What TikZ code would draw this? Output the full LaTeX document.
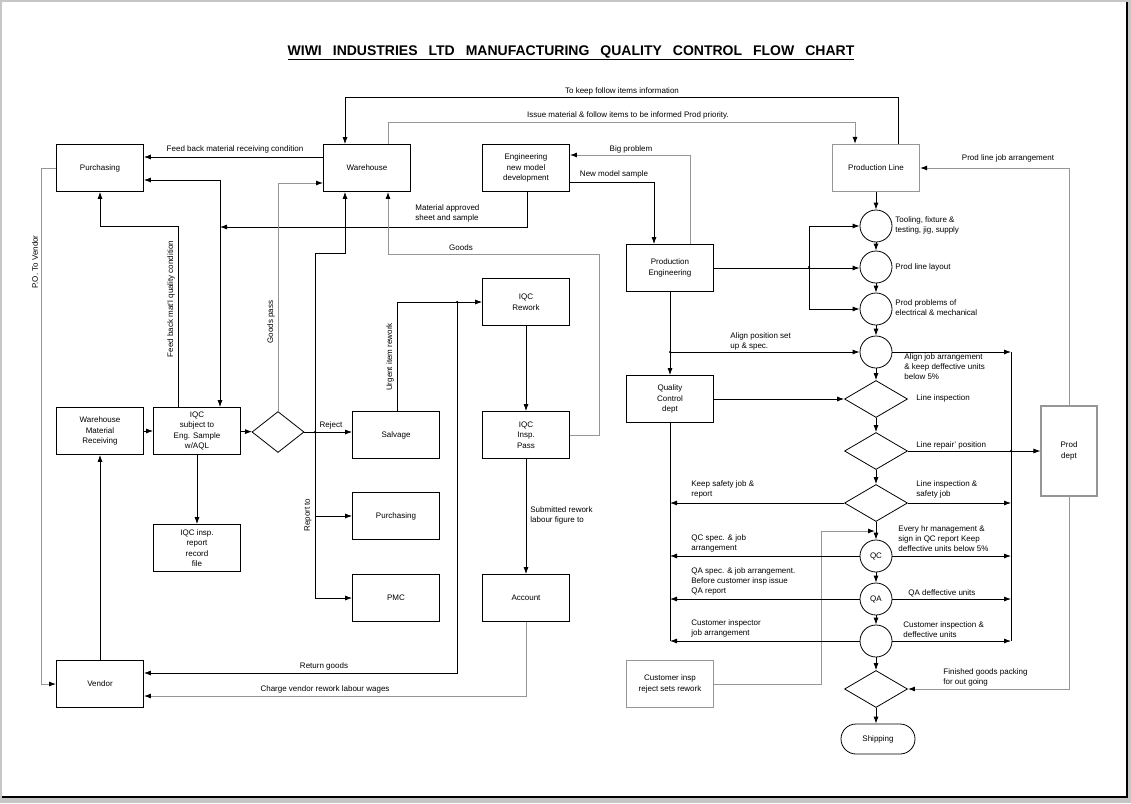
\documentclass[tikz,border=0pt]{standalone}
\usepackage{fontspec}
\setmainfont{Liberation Sans}
\usetikzlibrary{arrows.meta,shapes.geometric,positioning}
\definecolor{lgray}{RGB}{150,150,150}
\newcommand{\tsp}{\hspace{11pt}}
\tikzset{
    %Define standard arrow tip
    >={Latex[length=7pt,width=5pt]},
    %Define style for boxes
    procbox/.style={
           rectangle,
           draw=black, line width=0.8pt,
           minimum width=87pt,
           minimum height=47pt,
           inner sep=1pt,
           font=\fontsize{8}{10.5}\selectfont,
           align=center},
    gprocbox/.style={
           procbox,
           draw=lgray, line width=1.1pt},
    decision/.style={
           diamond,
           draw=black, line width=0.8pt,
           minimum width=63pt,
           minimum height=37pt,
           inner sep=0pt},
    stagecirc/.style={
           circle,
           draw=black, line width=0.8pt,
           minimum size=32pt,
           inner sep=0pt,
           font=\fontsize{8}{10}\selectfont},
    txt/.style={
           font=\fontsize{8}{10}\selectfont,
           inner sep=0pt,
           align=left},
    % Define arrow style
    glink/.style={
           draw=lgray, line width=1pt,
           -{Latex[length=7pt,width=5pt,color=black]}},
    jdot/.style={
           circle, fill=black,
           inner sep=0pt, minimum size=2.5pt}
}
\begin{document}
\begin{tikzpicture}[x=1pt,y=-1pt,line width=0.8pt]

 % page
 \fill[gray!45] (0,0) rectangle (1131,803);
 \fill[white] (2,2) rectangle (1127,797);
 \draw[line width=1.2pt] (1127,2) -- (1127,797) -- (2,797);
 \useasboundingbox (0,0) rectangle (1131,803);

 \node[font=\fontsize{14}{16}\selectfont\bfseries] (title) at (571,53)
   {\underline{WIWI\tsp INDUSTRIES\tsp LTD\tsp MANUFACTURING\tsp QUALITY\tsp CONTROL\tsp FLOW\tsp CHART}};

 %nodes
\node[procbox] (purch) at (100,168) {Purchasing};
\node[procbox] (wh) at (367,168) {Warehouse};
\node[procbox] (eng) at (526,168) {Engineering\\new model\\development};
\node[gprocbox] (pline) at (876,168) {Production Line};
\node[procbox] (pe) at (670,268) {Production\\Engineering};
\node[procbox] (wmr) at (100,431) {Warehouse\\Material\\Receiving};
\node[procbox] (iqc) at (197,431) {IQC\\subject to\\Eng. Sample\\w/AQL};
\node[decision, minimum width=52pt, minimum height=41pt] (d0) at (278,432) {};
\node[procbox] (salv) at (396,435) {Salvage};
\node[procbox] (purch2) at (396,516) {Purchasing};
\node[procbox] (pmc) at (396,598) {PMC};
\node[procbox] (rework) at (526,302) {IQC\\Rework};
\node[procbox] (pass) at (526,435) {IQC\\Insp.\\Pass};
\node[procbox] (acct) at (526,598) {Account};
\node[procbox] (rec) at (197,548) {IQC insp.\\report\\record\\file};
\node[procbox] (vendor) at (100,684) {Vendor};
\node[procbox] (qcd) at (670,399) {Quality\\Control\\dept};
\node[gprocbox] (cinsp) at (670,684) {Customer insp\\reject sets rework};
\node[gprocbox, minimum width=56pt, minimum height=90pt] (pdept) at (1069,451) {Prod\\dept};

\node[stagecirc] (c1) at (876,226) {};
\node[stagecirc] (c2) at (876,267) {};
\node[stagecirc] (c3) at (876,309) {};
\node[stagecirc] (c4) at (876,352) {};
\node[decision] (d1) at (876,399) {};
\node[decision] (d2) at (876,451) {};
\node[decision] (d3) at (876,503) {};
\node[stagecirc] (qc) at (876,556) {QC};
\node[stagecirc] (qa) at (876,599) {QA};
\node[stagecirc] (c7) at (876,641) {};
\node[decision] (d4) at (876,689) {};
\node[procbox, rounded corners=15pt, minimum width=74pt, minimum height=30pt] (ship) at (878,739) {Shipping};

\coordinate (appr) at (220,227);
\coordinate (bus) at (315,432);
\coordinate (ret) at (457,302);
\coordinate (pj) at (809,267);
\coordinate (rtop) at (1011,352);
\coordinate (rbot) at (1011,641);
\coordinate (cj) at (875,531);

 %left half
\draw[->] ([xshift=22pt]pline.north) -- ++(0,-47) -| ([xshift=-22pt]wh.north);
\draw[glink] ([xshift=21pt]wh.north) -- ++(0,-22) -| ([xshift=-21pt]pline.north);
\draw[->] ([yshift=11pt]wh.west) -- ([yshift=11pt]purch.east);
\draw[<->] ([yshift=-12pt]purch.east) -| ([xshift=23pt]iqc.north);
\draw[->] ([xshift=1pt]eng.south) |- (appr);
\draw[->] ([xshift=-19pt]iqc.north) -- ++(0,-181) -| (purch.south);
\draw[glink] (purch.west) -- ++(-15,0) |- (vendor.west);
\draw[glink] (d0.north) |- ([yshift=-15pt]wh.west);
\draw[->] (d0.east) -- (d0.east -| salv.west);
\draw[->] (bus) -- ++(0,-179) -| ([xshift=-22pt]wh.south);
\draw[->] (bus) |- (purch2.west);
\draw[->] (bus) |- (pmc.west);
\draw[->] ([xshift=1pt]salv.north) |- (rework.west);
\draw[->] (ret) |- ([yshift=11pt]vendor.east);
\draw[glink] (pass.east) -| ++(30,-181) -| ([xshift=21pt]wh.south);
\draw[glink] (acct.south) |- ([yshift=-12pt]vendor.east);
\node[jdot] at (bus) {};
\node[jdot] at (ret) {};

\path[->]
    (wmr) edge (iqc)
    (iqc) edge (d0)
          edge (rec)
    (vendor) edge (wmr)
    (rework) edge (pass)
    (pass) edge (acct);

 %right half
\draw[->] ([yshift=-14pt]eng.east) -| ([xshift=-16pt]pe.north);
\draw[glink] ([xshift=20pt]pe.north) |- ([yshift=13pt]eng.east);
\draw[->] (pe.east) -- (pe.east -| c2.west);
\draw[->] (pj) |- (c1.west);
\draw[->] (pj) |- (c3.west);
\draw[->] (pe.south |- c4.west) -- (c4.west);
\draw (rtop) -- (rbot);
\draw (qcd.south) -- (qcd.south |- c7.west);
\draw[glink] (pdept.north) |- (pline.east);
\draw[glink] (pdept.south) |- (d4.east);
\draw[glink] (cinsp.east) -| ++(107,-153) -- (cj);
\draw[->] (d4.south) -- (d4.south |- ship.north);
\node[jdot] at (pj) {};
\node[jdot] at (pe.south |- c4.west) {};
\node[jdot] at (rtop |- d2.east) {};

\path[->]
    (pline) edge (c1)
    (c1) edge (c2)
    (c2) edge (c3)
    (c3) edge (c4)
    (c4) edge (d1)
    (d1) edge (d2)
    (d2) edge (d3)
    (d3) edge (qc)
    (qc) edge (qa)
    (qa) edge (c7)
    (c7) edge (d4)
    (pe) edge (qcd)
    (qcd) edge (d1)
    (d2) edge (pdept)
    (c4.east) edge (c4.east -| rtop)
    (d3.east) edge (d3.east -| rtop)
    (qc.east) edge (qc.east -| rtop)
    (qa.east) edge (qa.east -| rtop)
    (c7.east) edge (c7.east -| rtop)
    (d3.west) edge (d3.west -| qcd.south)
    (qc.west) edge (qc.west -| qcd.south)
    (qa.west) edge (qa.west -| qcd.south)
    (c7.west) edge (c7.west -| qcd.south);

 %labels
\node[txt] at (622,91) {To keep follow items information};
\node[txt] at (628,115) {Issue material \& follow items to be informed Prod priority.};
\node[txt] at (235,149) {Feed back material receiving condition};
\node[txt, anchor=west] at (415,213) {Material approved\\sheet and sample};
\node[txt, rotate=90] at (171,299) {Feed back mat'l quality condition};
\node[txt, rotate=90] at (35,262) {P.O. To Vendor};
\node[txt, rotate=90] at (271,322) {Goods pass};
\node[txt] at (331,425) {Reject};
\node[txt, rotate=90] at (308,515) {Report to};
\node[txt, rotate=90] at (390,357) {Urgent item rework};
\node[txt] at (461,248) {Goods};
\node[txt, anchor=west] at (530,515) {Submitted rework\\labour figure to};
\node[txt] at (324,666) {Return goods};
\node[txt] at (325,689) {Charge vendor rework labour wages};
\node[txt] at (631,149) {Big problem};
\node[txt] at (614,174) {New model sample};
\node[txt] at (1008,158) {Prod line job arrangement};
\node[txt, anchor=west] at (895,225) {Tooling, fixture \&\\testing, jig, supply};
\node[txt, anchor=west] at (895,267) {Prod line layout};
\node[txt, anchor=west] at (895,308) {Prod problems of\\electrical \& mechanical};
\node[txt, anchor=west] at (730,341) {Align position set\\up \& spec.};
\node[txt, anchor=west] at (904,367) {Align job arrangement\\\& keep deffective units\\below 5\%};
\node[txt, anchor=west] at (916,398) {Line inspection};
\node[txt, anchor=west] at (916,445) {Line repair' position};
\node[txt, anchor=west] at (916,489) {Line inspection \&\\safety job};
\node[txt, anchor=west] at (691,489) {Keep safety job \&\\report};
\node[txt, anchor=west] at (691,543) {QC spec. \& job\\arrangement};
\node[txt, anchor=west] at (898,539) {Every hr management \&\\sign in QC report Keep\\deffective units below 5\%};
\node[txt, anchor=west] at (691,581) {QA spec. \& job arrangement.\\Before customer insp issue\\QA report};
\node[txt, anchor=west] at (908,593) {QA deffective units};
\node[txt, anchor=west] at (691,628) {Customer inspector\\job arrangement};
\node[txt, anchor=west] at (903,630) {Customer inspection \&\\deffective units};
\node[txt, anchor=west] at (943,677) {Finished goods packing\\for out going};

\end{tikzpicture}
\end{document}
